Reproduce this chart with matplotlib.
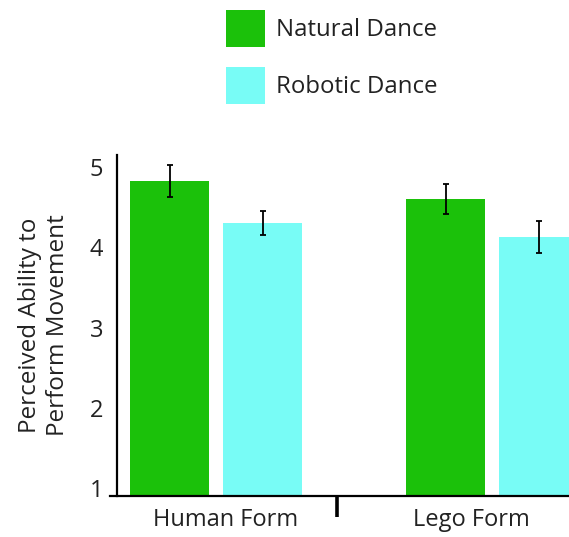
import matplotlib
matplotlib.use("Agg")
import matplotlib.pyplot as plt
from matplotlib.patches import Patch
import numpy as np

plt.rcParams['font.family'] = ['Open Sans', 'DejaVu Sans']

categories = ["Human Form", "Lego Form"]
series_names = ["Natural Dance", "Robotic Dance"]
natural = [4.83, 4.60]
natural_err = [0.20, 0.19]
robotic = [4.30, 4.13]
robotic_err = [0.15, 0.20]
yticks = [1, 2, 3, 4, 5]

green = "#1bc10a"
cyan = "#78fcf6"

fig = plt.figure(figsize=(5.69, 5.37), dpi=100)
ax = fig.add_axes([117/569, 41/537, (569-117)/569, 341/537])

x = np.arange(len(categories))
w = 0.286
off = 0.1685
ax.bar(x - off, natural, w, bottom=0, color=green, yerr=natural_err,
       error_kw=dict(ecolor="black", elinewidth=1.3, capsize=2.5, capthick=1.3))
ax.bar(x + off, robotic, w, bottom=0, color=cyan, yerr=robotic_err,
       error_kw=dict(ecolor="black", elinewidth=1.3, capsize=2.5, capthick=1.3))

ax.set_xlim(-0.359, 1.279)
ax.set_ylim(0.9, 5.15)
for s in ["top", "right"]:
    ax.spines[s].set_visible(False)
ax.spines["left"].set_linewidth(1.6)
ax.spines["bottom"].set_linewidth(1.6)
ax.spines["bottom"].set_bounds(-0.385, 1.279)

ax.set_yticks(yticks)
ax.set_yticklabels([str(v) for v in yticks], fontsize=17, color="#222222")
ax.tick_params(axis="y", length=0, pad=10)

ax.set_xticks([0.036, 0.924])
ax.set_xticklabels(categories, fontsize=17, color="#222222")
ax.tick_params(axis="x", which="major", length=0, pad=9)
ax.set_xticks([0.438], minor=True)
ax.tick_params(axis="x", which="minor", length=15, width=2.6, direction="out")

ax.set_ylabel("Perceived Ability to\nPerform Movement", fontsize=17.5,
              color="#222222", linespacing=1.2, labelpad=14)

handles = [Patch(facecolor=green, edgecolor="none"), Patch(facecolor=cyan, edgecolor="none")]
fig.legend(handles, series_names, loc="upper left", bbox_to_anchor=(216/569, 1.0),
           frameon=False, fontsize=17.3, handlelength=1.62, handleheight=2.0,
           handletextpad=0.45, labelspacing=0.82, borderaxespad=0.02, labelcolor="#222222")

fig.savefig("out.png", dpi=100)
